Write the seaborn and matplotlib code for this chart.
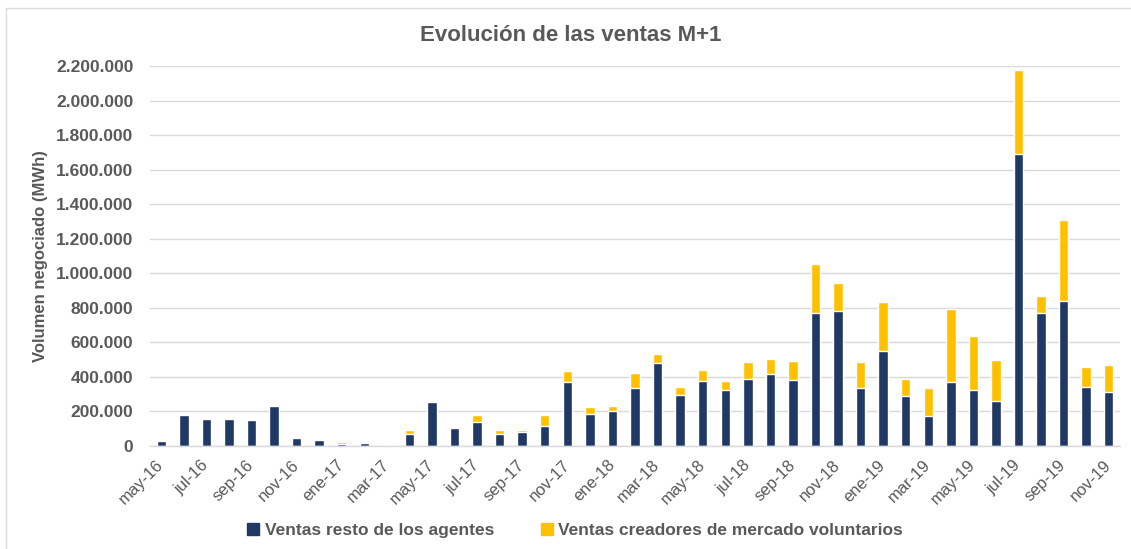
import matplotlib
matplotlib.use("Agg")
import matplotlib.pyplot as plt
import matplotlib.patches as mpatches
from matplotlib.ticker import FuncFormatter, FixedLocator
import pandas as pd
import seaborn as sns

months = ["may-16", "jun-16", "jul-16", "ago-16", "sep-16", "oct-16", "nov-16", "dic-16",
          "ene-17", "feb-17", "mar-17", "abr-17", "may-17", "jun-17", "jul-17", "ago-17",
          "sep-17", "oct-17", "nov-17", "dic-17", "ene-18", "feb-18", "mar-18", "abr-18",
          "may-18", "jun-18", "jul-18", "ago-18", "sep-18", "oct-18", "nov-18", "dic-18",
          "ene-19", "feb-19", "mar-19", "abr-19", "may-19", "jun-19", "jul-19", "ago-19",
          "sep-19", "oct-19", "nov-19"]

resto_agentes = [28000, 178000, 159000, 159000, 153000, 234000, 49000, 37000,
                 14000, 20000, 3000, 68000, 255000, 102000, 139000, 68000,
                 81000, 116000, 371000, 185000, 205000, 336000, 479000, 294000,
                 376000, 323000, 390000, 417000, 382000, 772000, 780000, 336000,
                 548000, 290000, 172000, 371000, 323000, 261000, 1689000, 772000,
                 842000, 342000, 315000]

creadores_mercado = [0, 0, 0, 0, 0, 0, 0, 0,
                     7000, 5000, 6000, 23000, 8000, 0, 39000, 23000,
                     10000, 62000, 62000, 41000, 29000, 89000, 56000, 48000,
                     62000, 53000, 96000, 89000, 112000, 282000, 164000, 150000,
                     286000, 100000, 164000, 425000, 314000, 239000, 486000, 97000,
                     465000, 118000, 152000]

NAVY = "#203864"
YELLOW = "#FFC000"
GREY = "#595959"

df = pd.DataFrame({"mes": months, "resto": resto_agentes, "creadores": creadores_mercado})
df["total"] = df["resto"] + df["creadores"]

sns.set_style("white")
plt.rcParams["font.family"] = ["Liberation Sans", "DejaVu Sans"]

fig = plt.figure(figsize=(11.31, 5.49), dpi=100)
ax = fig.add_axes([0.1326, 0.1876, 0.9903 - 0.1326, 0.8798 - 0.1876])

# stacked: total in yellow, navy part drawn over it
sns.barplot(data=df, x="mes", y="total", order=months, color=YELLOW, width=0.42,
            saturation=1, ax=ax)
sns.barplot(data=df, x="mes", y="resto", order=months, color=NAVY, width=0.42,
            saturation=1, ax=ax)

ax.set_xlim(-0.5, len(months) - 0.5)
ax.set_ylim(0, 2200000)
ax.set_yticks(range(0, 2200001, 200000))
ax.yaxis.set_major_formatter(FuncFormatter(lambda v, p: f"{int(v):,}".replace(",", ".")))
ax.grid(axis="y", color="#d9d9d9", linewidth=1)
ax.set_axisbelow(True)

# labels every two months, tick marks on the boundaries
ax.set_xticks(range(0, len(months), 2))
ax.set_xticklabels(months[::2], rotation=45, ha="right", va="center",
                   rotation_mode="anchor", fontsize=12, color=GREY)
ax.xaxis.set_minor_locator(FixedLocator([i - 0.5 for i in range(0, len(months) + 1, 2)]))
ax.tick_params(axis="x", which="major", length=0, pad=12)
ax.tick_params(axis="x", which="minor", length=5, color="#d9d9d9", width=1)
ax.tick_params(axis="y", length=0, pad=12)
for lab in ax.get_yticklabels():
    lab.set_fontweight("bold")
    lab.set_fontsize(12.5)
    lab.set_color(GREY)

for s in ["left", "right", "top"]:
    ax.spines[s].set_visible(False)
ax.spines["bottom"].set_color("#d9d9d9")
ax.spines["bottom"].set_linewidth(1)

ax.set_xlabel("")
ax.set_ylabel("Volumen negociado (MWh)", fontsize=12, fontweight="bold", color=GREY, labelpad=6)
fig.text(0.505, 0.935, "Evolución de las ventas M+1", ha="center", va="center",
         fontsize=16, fontweight="bold", color=GREY)

handles = [mpatches.Patch(color=NAVY, label="Ventas resto de los agentes"),
           mpatches.Patch(color=YELLOW, label="Ventas creadores de mercado voluntarios")]
leg = fig.legend(handles=handles, loc="center", bbox_to_anchor=(0.5085, 0.033), ncol=2,
                 frameon=False, handlelength=0.7, handleheight=0.7, handletextpad=0.3,
                 columnspacing=2.7, prop={"weight": "bold", "size": 12.5})
for t in leg.get_texts():
    t.set_color(GREY)

# chart frame
fig.patches.append(mpatches.Rectangle((6 / 1131, -0.01), 1.0, 1 - 8 / 549 + 0.01,
                                      transform=fig.transFigure, fill=False,
                                      edgecolor="#d9d9d9", linewidth=1))

fig.savefig("out.png", dpi=100)
